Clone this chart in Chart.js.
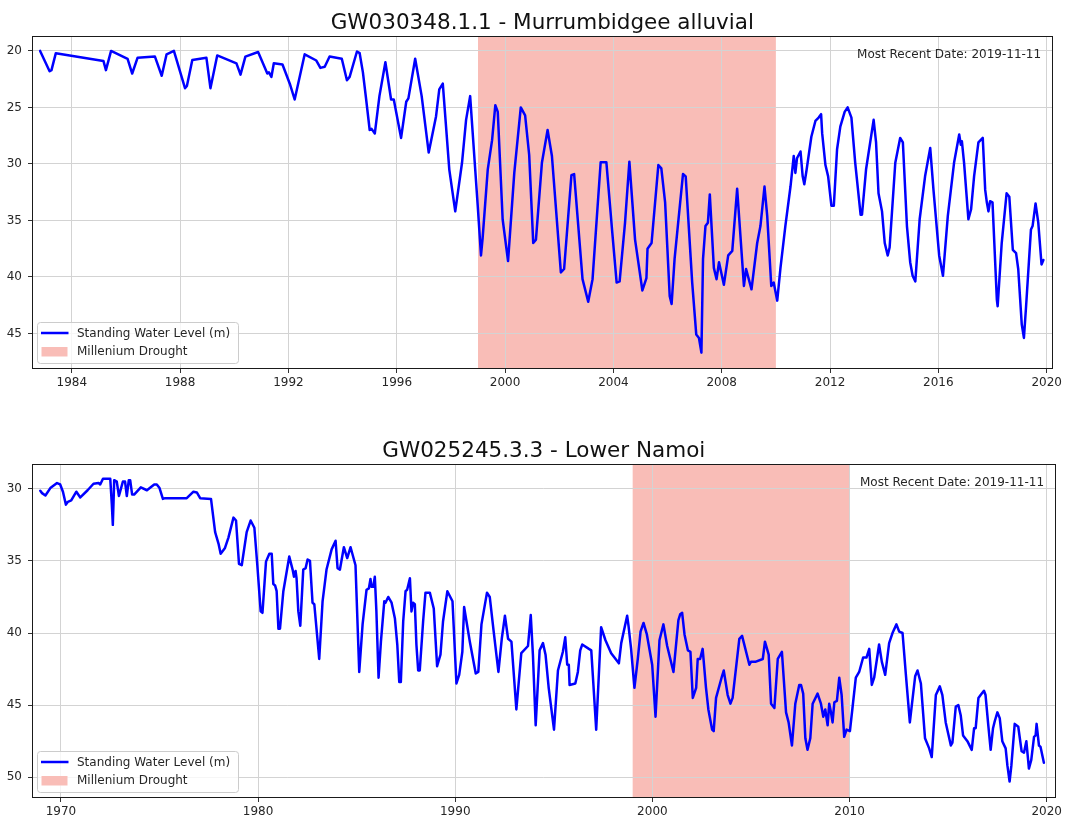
<!DOCTYPE html>
<html>
<head>
<meta charset="utf-8">
<script src="https://cdn.jsdelivr.net/npm/chart.js@4.4.1/dist/chart.umd.min.js"></script>
<style>
  html, body { margin: 0; padding: 0; background: #ffffff; }
  #wrap { position: relative; width: 1065px; height: 821px; }
  canvas { position: absolute; left: 0; }
  #c1 { top: 0; }
  #c2 { top: 410px; }
</style>
</head>
<body>
<div id="wrap">
  <canvas id="c1" width="1065" height="410"></canvas>
  <canvas id="c2" width="1065" height="411"></canvas>
</div>
<script>
// ---------------- DATA ----------------
const seriesLabel = 'Standing Water Level (m)';
const droughtLabel = 'Millenium Drought';
const droughtYears = [1999, 2010];
const recentDateText = 'Most Recent Date: 2019-11-11';

const topTitle = 'GW030348.1.1 - Murrumbidgee alluvial';
const topXTicks = [1984, 1988, 1992, 1996, 2000, 2004, 2008, 2012, 2016, 2020];
const topYTicks = [20, 25, 30, 35, 40, 45];
const topDates = [
  1982.83, 1983.18, 1983.25, 1983.41, 1985.17, 1985.26, 1985.45, 1986.06, 1986.23, 1986.43,
  1987.07, 1987.32, 1987.50, 1987.77, 1988.18, 1988.25, 1988.45, 1988.97, 1989.12, 1989.37,
  1990.08, 1990.23, 1990.41, 1990.88, 1991.22, 1991.28, 1991.37, 1991.46, 1991.78, 1992.05,
  1992.23, 1992.60, 1993.03, 1993.18, 1993.34, 1993.52, 1993.97, 1994.16, 1994.26, 1994.53,
  1994.63, 1994.75, 1994.87, 1995.00, 1995.07, 1995.19, 1995.36, 1995.58, 1995.79, 1995.89,
  1996.16, 1996.35, 1996.43, 1996.68, 1996.92, 1997.18, 1997.45, 1997.57, 1997.70, 1997.94,
  1998.16, 1998.41, 1998.56, 1998.71, 1998.99, 1999.11, 1999.17, 1999.36, 1999.52, 1999.64,
  1999.73, 1999.91, 2000.11, 2000.34, 2000.58, 2000.74, 2000.89, 2001.04, 2001.14, 2001.36,
  2001.57, 2001.73, 2002.06, 2002.18, 2002.45, 2002.55, 2002.86, 2003.07, 2003.23, 2003.53,
  2003.74, 2003.96, 2004.12, 2004.23, 2004.43, 2004.59, 2004.80, 2005.07, 2005.22, 2005.26,
  2005.41, 2005.66, 2005.77, 2005.91, 2006.08, 2006.15, 2006.26, 2006.57, 2006.67, 2006.91,
  2007.06, 2007.16, 2007.25, 2007.31, 2007.40, 2007.49, 2007.56, 2007.71, 2007.81, 2007.90,
  2008.08, 2008.24, 2008.39, 2008.57, 2008.82, 2008.90, 2009.10, 2009.31, 2009.43, 2009.58,
  2009.68, 2009.83, 2009.92, 2010.05, 2010.17, 2010.35, 2010.54, 2010.66, 2010.72, 2010.78,
  2010.91, 2010.99, 2011.05, 2011.13, 2011.31, 2011.46, 2011.58, 2011.67, 2011.71, 2011.83,
  2011.93, 2012.05, 2012.14, 2012.26, 2012.38, 2012.54, 2012.65, 2012.79, 2012.93, 2013.13,
  2013.18, 2013.33, 2013.61, 2013.70, 2013.79, 2013.92, 2014.02, 2014.13, 2014.20, 2014.41,
  2014.59, 2014.69, 2014.84, 2014.96, 2015.05, 2015.15, 2015.31, 2015.51, 2015.70, 2015.82,
  2016.03, 2016.17, 2016.35, 2016.58, 2016.77, 2016.83, 2016.87, 2016.95, 2017.11, 2017.21,
  2017.32, 2017.48, 2017.64, 2017.73, 2017.79, 2017.85, 2017.91, 2018.00, 2018.16, 2018.19,
  2018.34, 2018.52, 2018.62, 2018.75, 2018.87, 2018.95, 2019.08, 2019.16, 2019.24, 2019.42,
  2019.48, 2019.59, 2019.69, 2019.81, 2019.88
];
const topLevels = [
  20.0, 21.8, 21.7, 20.2, 20.9, 21.7, 20.0, 20.7, 22.0, 20.6,
  20.5, 22.2, 20.3, 20.0, 23.3, 23.1, 20.8, 20.6, 23.3, 20.4,
  21.1, 22.1, 20.5, 20.1, 22.0, 21.9, 22.3, 21.1, 21.2, 22.9,
  24.3, 20.3, 20.85, 21.5, 21.4, 20.5, 20.7, 22.6, 22.3, 20.05,
  20.2, 21.9, 24.3, 27.0, 26.9, 27.3, 24.0, 21.0, 24.3, 24.3,
  27.7, 24.5, 24.2, 20.7, 24.0, 29.0, 25.8, 23.4, 22.9, 30.5,
  34.2, 29.9, 26.1, 24.0, 33.7, 38.1, 36.6, 30.5, 27.9, 24.8,
  25.4, 34.9, 38.6, 30.8, 25.0, 25.7, 29.2, 37.0, 36.7, 29.9,
  27.0, 29.3, 39.6, 39.3, 31.0, 30.9, 40.2, 42.2, 40.2, 29.85,
  29.85, 36.1, 40.5, 40.4, 35.2, 29.8, 36.7, 41.2, 40.1, 37.5,
  37.0, 30.1, 30.4, 33.4, 41.7, 42.4, 38.4, 30.9, 31.1, 40.5,
  45.1, 45.4, 46.7, 38.4, 35.5, 35.2, 32.7, 39.2, 40.2, 38.7,
  40.7, 38.1, 37.7, 32.2, 40.8, 39.3, 41.1, 37.0, 35.5, 32.0,
  34.6, 40.8, 40.5, 42.1, 39.2, 35.5, 32.0, 29.3, 30.8, 29.5,
  28.9, 31.1, 31.8, 30.6, 27.6, 26.2, 25.9, 25.6, 27.3, 30.1,
  31.1, 33.7, 33.7, 28.7, 26.7, 25.4, 25.0, 25.9, 29.9, 34.5,
  34.5, 30.5, 26.1, 28.1, 32.6, 34.2, 37.0, 38.1, 37.4, 29.9,
  27.7, 28.1, 35.5, 38.7, 39.9, 40.4, 34.9, 31.1, 28.6, 32.3,
  38.1, 39.9, 34.6, 29.9, 27.4, 28.3, 28.0, 29.9, 34.9, 34.0,
  31.1, 28.1, 27.7, 32.3, 33.4, 34.2, 33.3, 33.4, 42.0, 42.6,
  37.0, 32.6, 32.9, 37.6, 37.9, 39.3, 44.2, 45.4, 42.6, 35.8,
  35.5, 33.5, 35.2, 38.9, 38.5
];

const bottomTitle = 'GW025245.3.3 - Lower Namoi';
const bottomXTicks = [1970, 1980, 1990, 2000, 2010, 2020];
const bottomYTicks = [30, 35, 40, 45, 50];
const bottomDates = [
  1968.95, 1969.04, 1969.21, 1969.46, 1969.80, 1969.96, 1970.10, 1970.25, 1970.35, 1970.52,
  1970.78, 1970.98, 1971.35, 1971.65, 1971.91, 1971.99, 1972.13, 1972.50, 1972.58, 1972.63,
  1972.70, 1972.83, 1972.94, 1973.14, 1973.25, 1973.34, 1973.44, 1973.51, 1973.61, 1973.71,
  1974.05, 1974.36, 1974.73, 1974.86, 1975.00, 1975.17, 1975.28, 1975.71, 1976.04, 1976.38,
  1976.72, 1976.89, 1977.06, 1977.61, 1977.82, 1977.99, 1978.10, 1978.32, 1978.49, 1978.75,
  1978.88, 1979.03, 1979.17, 1979.42, 1979.62, 1979.81, 1979.96, 1980.13, 1980.22, 1980.40,
  1980.57, 1980.69, 1980.77, 1980.86, 1980.94, 1981.03, 1981.11, 1981.28, 1981.58, 1981.75,
  1981.82, 1981.90, 1981.95, 1982.04, 1982.14, 1982.29, 1982.41, 1982.51, 1982.63, 1982.76,
  1982.85, 1983.10, 1983.27, 1983.47, 1983.73, 1983.93, 1984.03, 1984.15, 1984.35, 1984.52,
  1984.69, 1984.94, 1985.13, 1985.30, 1985.50, 1985.62, 1985.70, 1985.75, 1985.84, 1985.92,
  1986.00, 1986.11, 1986.23, 1986.40, 1986.46, 1986.60, 1986.77, 1986.94, 1987.06, 1987.16,
  1987.24, 1987.36, 1987.48, 1987.56, 1987.70, 1987.78, 1987.86, 1987.95, 1988.03, 1988.12,
  1988.20, 1988.37, 1988.49, 1988.71, 1988.91, 1989.08, 1989.25, 1989.38, 1989.60, 1989.86,
  1990.06, 1990.20, 1990.36, 1990.45, 1990.74, 1991.04, 1991.17, 1991.33, 1991.61, 1991.75,
  1991.95, 1992.19, 1992.36, 1992.52, 1992.68, 1992.85, 1993.10, 1993.35, 1993.69, 1993.83,
  1993.94, 1994.08, 1994.28, 1994.45, 1994.58, 1994.74, 1995.01, 1995.21, 1995.46, 1995.58,
  1995.68, 1995.76, 1995.80, 1996.09, 1996.22, 1996.34, 1996.44, 1996.78, 1996.90, 1997.15,
  1997.40, 1997.62, 1997.91, 1998.30, 1998.42, 1998.72, 1998.79, 1998.92, 1999.09, 1999.26,
  1999.40, 1999.55, 1999.72, 1999.99, 2000.16, 2000.36, 2000.56, 2000.75, 2001.07, 2001.32,
  2001.41, 2001.51, 2001.63, 2001.80, 2001.93, 2002.05, 2002.22, 2002.30, 2002.42, 2002.55,
  2002.72, 2002.84, 2003.03, 2003.11, 2003.23, 2003.53, 2003.62, 2003.82, 2003.96, 2004.07,
  2004.41, 2004.55, 2004.92, 2005.00, 2005.22, 2005.60, 2005.71, 2005.90, 2006.02, 2006.19,
  2006.36, 2006.57, 2006.78, 2006.91, 2007.08, 2007.25, 2007.45, 2007.54, 2007.65, 2007.76,
  2007.87, 2008.01, 2008.13, 2008.38, 2008.55, 2008.67, 2008.77, 2008.89, 2008.97, 2009.06,
  2009.14, 2009.23, 2009.36, 2009.48, 2009.60, 2009.73, 2009.85, 2010.02, 2010.15, 2010.32,
  2010.49, 2010.69, 2010.86, 2011.00, 2011.13, 2011.25, 2011.50, 2011.64, 2011.81, 2012.01,
  2012.18, 2012.38, 2012.52, 2012.69, 2012.86, 2013.06, 2013.33, 2013.45, 2013.62, 2013.83,
  2014.04, 2014.17, 2014.38, 2014.58, 2014.71, 2014.88, 2015.14, 2015.22, 2015.39, 2015.52,
  2015.64, 2015.76, 2015.98, 2016.20, 2016.32, 2016.40, 2016.54, 2016.65, 2016.82, 2016.90,
  2017.04, 2017.16, 2017.28, 2017.37, 2017.50, 2017.62, 2017.75, 2017.92, 2018.01, 2018.12,
  2018.21, 2018.38, 2018.56, 2018.73, 2018.85, 2018.97, 2019.10, 2019.22, 2019.36, 2019.44,
  2019.49, 2019.61, 2019.69, 2019.86
];
const bottomLevels = [
  30.14, 30.3, 30.46, 29.95, 29.6, 29.7, 30.2, 31.1, 30.9, 30.8,
  30.2, 30.6, 30.1, 29.65, 29.6, 29.7, 29.3, 29.3, 31.1, 32.5,
  29.4, 29.5, 30.5, 29.5, 29.5, 30.5, 29.4, 29.4, 30.4, 30.4,
  29.9, 30.1, 29.7, 29.7, 29.95, 30.7, 30.65, 30.65, 30.65, 30.65,
  30.2, 30.25, 30.65, 30.7, 33.0, 33.8, 34.5, 34.1, 33.4, 32.0,
  32.2, 35.2, 35.3, 33.0, 32.2, 32.7, 35.3, 38.5, 38.6, 35.05,
  34.5, 34.5, 36.6, 36.7, 37.1, 39.7, 39.7, 37.1, 34.7, 35.6,
  36.1, 35.7, 36.2, 38.5, 39.5, 35.6, 35.5, 34.9, 35.0, 37.9,
  38.0, 41.8, 37.8, 35.6, 34.2, 33.6, 35.5, 35.6, 34.05, 34.8,
  34.05, 35.3, 42.7, 39.4, 37.0, 36.9, 36.25, 36.8, 36.8, 36.1,
  38.5, 43.1, 40.6, 37.8, 37.9, 37.5, 37.9, 39.0, 40.8, 43.4,
  43.4, 39.2, 37.1, 37.0, 36.2, 38.5, 37.9, 38.0, 40.8, 42.6,
  42.6, 39.2, 37.2, 37.2, 38.3, 42.3, 41.5, 39.2, 37.1, 37.8,
  43.5, 42.9, 41.3, 38.2, 40.6, 42.8, 42.7, 39.4, 37.2, 37.5,
  39.9, 42.7, 40.4, 38.8, 40.4, 40.6, 45.3, 41.4, 40.9, 38.75,
  41.5, 46.4, 41.2, 40.7, 41.5, 43.8, 46.7, 42.6, 41.3, 40.3,
  42.2, 42.2, 43.6, 43.5, 42.7, 41.2, 40.8, 41.1, 41.2, 46.7,
  39.6, 40.5, 41.4, 42.1, 40.7, 38.8, 39.5, 41.1, 43.8, 41.8,
  39.9, 39.3, 40.1, 42.2, 45.8, 40.5, 39.4, 40.9, 42.7, 39.1,
  38.7, 38.6, 40.1, 41.2, 41.3, 44.5, 43.8, 41.8, 41.8, 41.1,
  43.8, 45.3, 46.7, 46.8, 44.5, 43.0, 42.6, 44.3, 44.9, 44.5,
  40.4, 40.2, 42.2, 42.0, 42.0, 41.8, 40.6, 41.5, 44.9, 45.2,
  41.8, 41.3, 45.5, 46.2, 47.8, 44.9, 43.6, 43.6, 44.2, 47.3,
  48.1, 47.3, 44.9, 44.2, 44.9, 45.8, 45.3, 46.4, 44.9, 45.5,
  46.2, 44.8, 44.7, 43.1, 44.3, 47.2, 46.7, 46.8, 45.2, 43.1,
  42.7, 41.7, 41.7, 41.1, 43.6, 43.1, 40.8, 42.0, 42.9, 40.7,
  40.0, 39.4, 39.9, 40.0, 42.9, 46.2, 43.0, 42.6, 43.5, 47.3,
  48.0, 48.6, 44.3, 43.7, 44.3, 46.2, 47.8, 47.6, 45.1, 45.0,
  45.7, 47.1, 47.5, 48.1, 46.6, 46.6, 44.5, 44.3, 44.0, 44.3,
  46.4, 48.1, 46.6, 46.1, 45.5, 45.9, 47.5, 48.0, 49.2, 50.3,
  49.2, 46.3, 46.5, 48.2, 48.3, 47.5, 49.4, 48.8, 47.2, 47.1,
  46.3, 47.8, 47.9, 49.0
];

// ---------------- STYLE ----------------
const FONT = "'DejaVu Sans', 'Liberation Sans', sans-serif";
const LINE_COLOR = '#0000ff';
const DROUGHT_COLOR = '#f9bdb7';
const GRID_COLOR = '#d3d3d3';
const TEXT_COLOR = '#262626';

function makeChart(canvasId, cfg) {
  const points = cfg.dates.map((d, i) => ({ x: d, y: cfg.levels[i] }));

  const decorPlugin = {
    id: 'decor_' + canvasId,
    beforeDraw(chart) {
      const ctx = chart.ctx;
      const a = chart.chartArea;
      const xs = chart.scales.x;
      const x0 = Math.max(a.left, xs.getPixelForValue(droughtYears[0]));
      const x1 = Math.min(a.right, xs.getPixelForValue(droughtYears[1]));
      ctx.save();
      ctx.fillStyle = '#ffffff';
      ctx.fillRect(0, 0, chart.width, chart.height);
      ctx.fillStyle = DROUGHT_COLOR;
      ctx.fillRect(x0, a.top, x1 - x0, a.bottom - a.top);
      ctx.restore();
    },
    afterDraw(chart) {
      const ctx = chart.ctx;
      const a = chart.chartArea;
      ctx.save();
      // frame
      ctx.strokeStyle = '#1a1a1a';
      ctx.lineWidth = 1;
      ctx.strokeRect(Math.round(a.left) + 0.5, Math.round(a.top) + 0.5,
                     Math.round(a.right - a.left) - 1, Math.round(a.bottom - a.top) - 1);
      // title
      ctx.fillStyle = '#111111';
      ctx.font = '21.5px ' + FONT;
      ctx.textAlign = 'center';
      ctx.textBaseline = 'alphabetic';
      ctx.fillText(cfg.title, (a.left + a.right) / 2, a.top + cfg.titleOffset);
      // most recent date
      ctx.font = '12px ' + FONT;
      ctx.textAlign = 'right';
      ctx.textBaseline = 'middle';
      ctx.fillStyle = TEXT_COLOR;
      ctx.fillText(recentDateText, a.right - 11.5, a.top + 18.5);
      // legend
      const bx = a.left + 5.5, bw = 201, bh = 41;
      const by = a.bottom - 5.5 - bh;
      ctx.beginPath();
      if (ctx.roundRect) ctx.roundRect(bx, by, bw, bh, 3); else ctx.rect(bx, by, bw, bh);
      ctx.fillStyle = 'rgba(255,255,255,0.8)';
      ctx.fill();
      ctx.strokeStyle = '#cccccc';
      ctx.lineWidth = 1;
      ctx.stroke();
      ctx.strokeStyle = LINE_COLOR;
      ctx.lineWidth = 2.5;
      ctx.beginPath();
      ctx.moveTo(bx + 3.5, by + 10.5);
      ctx.lineTo(bx + 31, by + 10.5);
      ctx.stroke();
      ctx.fillStyle = DROUGHT_COLOR;
      ctx.fillRect(bx + 4, by + 24.5, 26, 9.5);
      ctx.fillStyle = TEXT_COLOR;
      ctx.textAlign = 'left';
      ctx.textBaseline = 'middle';
      ctx.font = '12px ' + FONT;
      ctx.fillText(seriesLabel, bx + 39.5, by + 11);
      ctx.fillText(droughtLabel, bx + 39.5, by + 29.5);
      ctx.restore();
    }
  };

  return new Chart(document.getElementById(canvasId), {
    type: 'line',
    data: {
      datasets: [{
        label: seriesLabel,
        data: points,
        borderColor: LINE_COLOR,
        borderWidth: 2.5,
        pointRadius: 0,
        tension: 0,
        fill: false,
        borderJoinStyle: 'round',
        borderCapStyle: 'round'
      }]
    },
    options: {
      responsive: false,
      animation: false,
      devicePixelRatio: 1,
      layout: { padding: cfg.padding },
      plugins: { legend: { display: false }, title: { display: false }, tooltip: { enabled: false } },
      scales: {
        x: {
          type: 'linear',
          min: cfg.xMin, max: cfg.xMax,
          afterFit(s) { s.height = cfg.xAxisHeight; },
          afterBuildTicks(s) { s.ticks = cfg.xTicks.map(v => ({ value: v })); },
          ticks: {
            autoSkip: false, maxRotation: 0,
            color: TEXT_COLOR,
            font: { family: FONT, size: 12 },
            padding: 3,
            callback: v => String(v)
          },
          grid: { color: GRID_COLOR, lineWidth: 1, tickLength: 4, tickColor: '#333333', drawOnChartArea: true },
          border: { display: false }
        },
        y: {
          type: 'linear',
          reverse: true,
          min: cfg.yMin, max: cfg.yMax,
          afterFit(s) { s.width = cfg.yAxisWidth; },
          afterBuildTicks(s) { s.ticks = cfg.yTicks.map(v => ({ value: v })); },
          ticks: {
            autoSkip: false,
            color: TEXT_COLOR,
            font: { family: FONT, size: 12 },
            padding: 6,
            callback: v => String(v)
          },
          grid: { color: GRID_COLOR, lineWidth: 1, tickLength: 4, tickColor: '#333333', drawOnChartArea: true },
          border: { display: false }
        }
      }
    },
    plugins: [decorPlugin]
  });
}

makeChart('c1', {
  title: topTitle, titleOffset: -7,
  dates: topDates, levels: topLevels,
  xTicks: topXTicks, yTicks: topYTicks,
  xMin: 1982.53, xMax: 2020.22, yMin: 18.68, yMax: 48.15,
  padding: { top: 36, right: 11, left: 0, bottom: 0 },
  xAxisHeight: 41, yAxisWidth: 32
});

makeChart('c2', {
  title: bottomTitle, titleOffset: -7,
  dates: bottomDates, levels: bottomLevels,
  xTicks: bottomXTicks, yTicks: bottomYTicks,
  xMin: 1968.53, xMax: 2020.45, yMin: 28.28, yMax: 51.44,
  padding: { top: 54, right: 9, left: 0, bottom: 0 },
  xAxisHeight: 23, yAxisWidth: 32
});
</script>
</body>
</html>
